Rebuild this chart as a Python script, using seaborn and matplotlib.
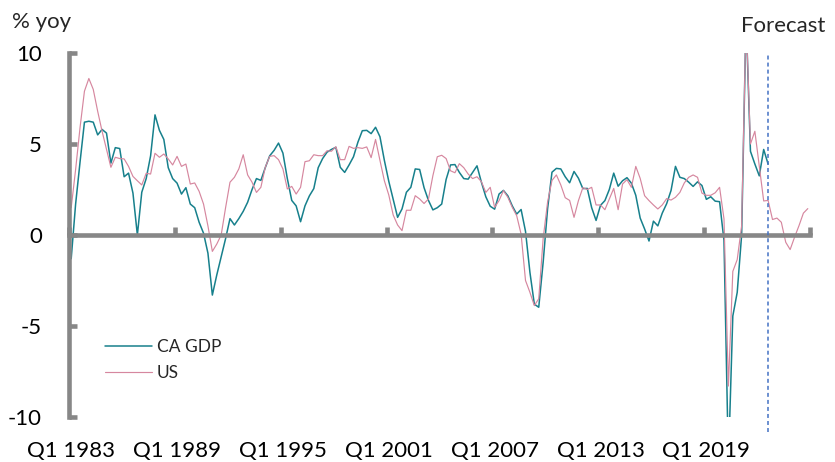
import numpy as np
import pandas as pd
import matplotlib
matplotlib.use("Agg")
import matplotlib.pyplot as plt
import seaborn as sns

# Year-over-year real GDP growth, quarterly from Q1 1983
ca_gdp = [
    -1.3, 1.7, 4.0, 6.2, 6.25, 6.2, 5.5, 5.8, 5.6, 3.95,
    4.8, 4.75, 3.2, 3.4, 2.3, 0.0, 2.35, 3.1, 4.35, 6.6,
    5.75, 5.25, 3.7, 3.1, 2.85, 2.25, 2.6, 1.7, 1.5, 0.7,
    0.1, -1.0, -3.3, -2.2, -1.2, -0.2, 0.9, 0.55, 0.9, 1.3,
    1.8, 2.5, 3.1, 3.0, 3.7, 4.35, 4.65, 5.05, 4.5, 3.1,
    1.9, 1.6, 0.73, 1.6, 2.15, 2.55, 3.7, 4.2, 4.55, 4.7,
    4.82, 3.72, 3.44, 3.85, 4.3, 5.1, 5.73, 5.75, 5.57, 5.92,
    5.4, 4.1, 2.95, 1.95, 0.97, 1.43, 2.35, 2.62, 3.63, 3.6,
    2.6, 1.9, 1.38, 1.5, 1.7, 3.05, 3.85, 3.87, 3.44, 3.1,
    3.07, 3.44, 3.8, 2.9, 2.1, 1.58, 1.42, 2.25, 2.45, 2.15,
    1.6, 1.15, 1.4, 0.2, -2.05, -3.8, -3.97, -1.5, 1.43, 3.45,
    3.66, 3.63, 3.2, 2.87, 3.49, 3.12, 2.55, 2.56, 1.5, 0.8,
    1.63, 1.89, 2.5, 3.4, 2.68, 2.98, 3.15, 2.85, 2.18, 0.93,
    0.33, -0.33, 0.76, 0.5, 1.2, 1.72, 2.45, 3.77, 3.17, 3.1,
    2.9, 2.67, 2.92, 2.72, 1.96, 2.1, 1.86, 1.83, -0.3, -12.5,
    -4.45, -3.15, 0.0, 12.0, 4.6, 3.9, 3.25, 4.7, 3.9,
]

# US series, including the forecast quarters
us = [
    1.5, 3.6, 5.9, 7.9, 8.6, 8.0, 6.8, 5.7, 4.7, 3.72,
    4.27, 4.2, 4.18, 3.77, 3.22, 2.98, 2.75, 3.39, 3.35, 4.49,
    4.27, 4.45, 4.18, 3.85, 4.32, 3.77, 3.9, 2.8, 2.86, 2.4,
    1.7, 0.5, -0.9, -0.5, 0.0, 1.5, 2.9, 3.17, 3.63, 4.41,
    3.3, 2.9, 2.34, 2.62, 3.72, 4.32, 4.36, 4.14, 3.63, 2.53,
    2.67, 2.25, 2.62, 4.03, 4.08, 4.41, 4.36, 4.36, 4.63, 4.6,
    4.85, 4.14, 4.14, 4.87, 4.76, 4.8, 4.76, 4.84, 4.25, 5.25,
    4.1, 2.98, 2.2, 1.1, 0.55, 0.24, 1.36, 1.36, 2.16, 1.98,
    1.73, 1.98, 3.26, 4.3, 4.38, 4.2, 3.53, 3.42, 3.92, 3.7,
    3.35, 3.1, 3.2, 2.93, 2.34, 2.62, 1.52, 1.89, 2.44, 2.07,
    1.52, 1.06, 0.05, -2.5, -3.15, -3.88, -3.5, -0.2, 1.8, 3.0,
    3.3, 2.75, 2.05, 1.9, 0.97, 1.89, 2.6, 2.5, 2.62, 1.65,
    1.65, 1.39, 1.98, 2.56, 1.39, 2.8, 3.04, 2.62, 3.77, 3.11,
    2.16, 1.89, 1.65, 1.43, 1.65, 2.0, 1.92, 2.07, 2.34, 2.86,
    3.17, 3.3, 3.17, 2.3, 2.18, 2.18, 2.32, 2.62, 0.88, -8.3,
    -2.0, -1.35, 0.5, 12.0, 5.0, 5.7, 3.8, 1.87, 1.9, 0.85,
    0.93, 0.7, -0.4, -0.8, -0.12, 0.51, 1.2, 1.45,
]

tick_labels = ["Q1 1983", "Q1 1989", "Q1 1995", "Q1 2001",
               "Q1 2007", "Q1 2013", "Q1 2019"]
y_ticks = [-10, -5, 0, 5, 10]

TEAL = "#17808C"
PINK = "#D6879F"
GREY = "#878787"
BLUE = "#4472C4"

sns.set_style("white")
plt.rcParams["font.family"] = ["Lato", "DejaVu Sans"]

W, H = 835, 462
fig = plt.figure(figsize=(W / 100, H / 100), dpi=100)
ax = fig.add_axes([69 / W, 1 - 417 / H, (810 - 69) / W, (417 - 53) / H])

# each quarter is drawn in the middle of its category slot
df_ca = pd.DataFrame({"quarter": np.arange(len(ca_gdp)) + 0.5, "value": ca_gdp})
df_us = pd.DataFrame({"quarter": np.arange(len(us)) + 0.5, "value": us})

sns.lineplot(data=df_ca, x="quarter", y="value", color=TEAL, linewidth=1.1,
             ax=ax, label="CA GDP")
sns.lineplot(data=df_us, x="quarter", y="value", color=PINK, linewidth=0.85,
             ax=ax, label="US")

n_slots = len(us)
ax.set_xlim(0, n_slots)
ax.set_ylim(-10, 10)
ax.set_xlabel("")
ax.set_ylabel("")

# forecast boundary after the last actual Canadian quarter
fc_x = len(ca_gdp) - 0.5
ax.vlines(fc_x, -10.8, 10, colors=BLUE, linewidth=1.1,
          linestyles=(0, (2.6, 2.0)), clip_on=False, zorder=4)

# axes styling: thick grey left axis, category axis crossing at zero
for side in ("top", "right"):
    ax.spines[side].set_visible(False)
ax.spines["left"].set_color(GREY)
ax.spines["left"].set_linewidth(3.3)
ax.spines["bottom"].set_position(("data", 0))
ax.spines["bottom"].set_color(GREY)
ax.spines["bottom"].set_linewidth(3.3)

ax.set_yticks(y_ticks)
ax.set_yticklabels([str(v) for v in y_ticks])
ax.tick_params(axis="y", left=True, direction="in", length=5.5, width=3.3,
               color=GREY, pad=19.5, labelsize=16, labelcolor="black")

ax.set_xticks(np.arange(0, n_slots + 1, 24))
ax.tick_params(axis="x", bottom=True, direction="in", length=5.5, width=3.3,
               color=GREY, labelbottom=False)

# category labels along the bottom edge
sec = ax.secondary_xaxis("bottom")
sec.set_xticks(np.arange(len(tick_labels)) * 24 + 0.5, labels=tick_labels)
sec.tick_params(bottom=True, length=0, pad=17.5, labelsize=16,
                labelcolor="black")
sec.spines["bottom"].set_visible(False)

ax.legend(loc="upper left", bbox_to_anchor=(105 / W, 1 - 339 / H),
          bbox_transform=fig.transFigure, frameon=False, fontsize=12.5,
          handlelength=2.7, handletextpad=0.3, labelspacing=0.6,
          borderpad=0, borderaxespad=0)

fig.text(12 / W, 1 - 22 / H, "% yoy", fontsize=16, va="center", ha="left")
fig.text(741 / W, 1 - 26 / H, "Forecast", fontsize=16, va="center", ha="left")

fig.savefig("out.png", dpi=100)
